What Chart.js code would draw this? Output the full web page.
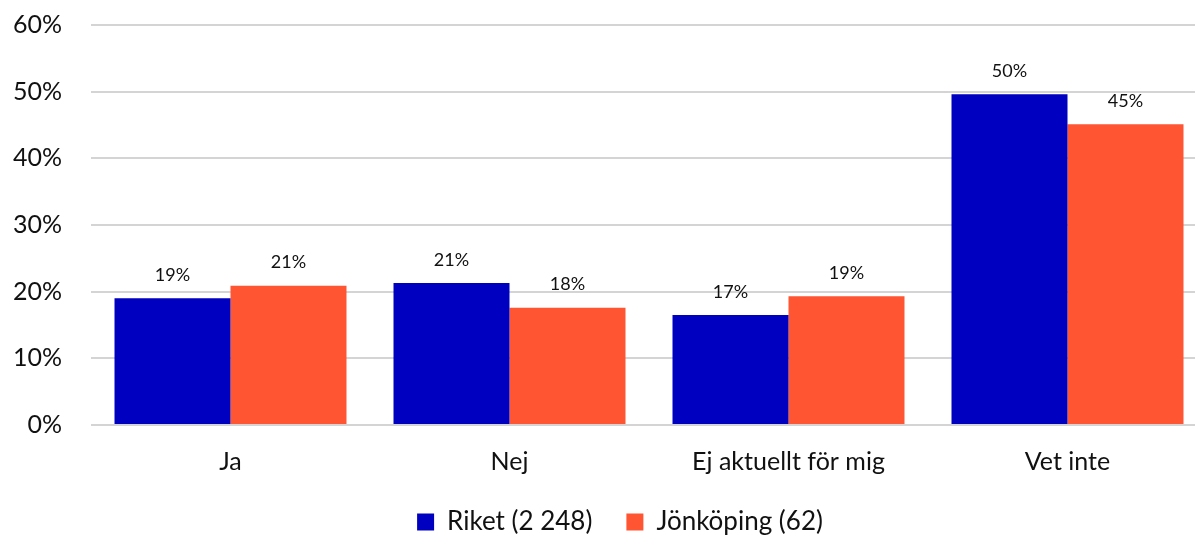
<!DOCTYPE html>
<html>
<head>
<meta charset="utf-8">
<script src="https://cdn.jsdelivr.net/npm/chart.js@4/dist/chart.umd.min.js"></script>
<style>
    html, body { margin: 0; padding: 0; background: #fff; overflow: hidden; }
    #wrap { width: 1262px; height: 564px; margin-top: -19px; position: relative; }
</style>
</head>
<body>
<div id="wrap"><canvas id="chart"></canvas></div>
<script>
const categories = ['Ja', 'Nej', 'Ej aktuellt för mig', 'Vet inte'];
const riket = [19.0, 21.3, 16.5, 49.6];
const jonkoping = [20.9, 17.6, 19.3, 45.1];
const seriesLabels = ['Riket (2 248)', 'Jönköping (62)'];
const yTicks = [0, 10, 20, 30, 40, 50, 60];

const textColor = '#111111';
const fontFamily = 'Lato, "Open Sans", sans-serif';

// value labels above each bar
const barValueLabels = {
    id: 'barValueLabels',
    afterDatasetsDraw(chart) {
        const ctx = chart.ctx;
        ctx.save();
        ctx.font = '18px ' + fontFamily;
        ctx.fillStyle = textColor;
        ctx.textAlign = 'center';
        ctx.textBaseline = 'bottom';
        chart.data.datasets.forEach((ds, i) => {
            chart.getDatasetMeta(i).data.forEach((bar, j) => {
                ctx.fillText(Math.round(ds.data[j]) + '%', bar.x, bar.y - 14);
            });
        });
        ctx.restore();
    },
};

// nudge the legend a little to the right, like the original
const legendShift = {
    id: 'legendShift',
    afterLayout(chart) {
        if (!chart.legend) return;
        chart.legend.left += 10;
        chart.legend.right += 10;
    },
};

new Chart(document.getElementById('chart'), {
    type: 'bar',
    data: {
        labels: categories,
        datasets: [
            { label: seriesLabels[0], data: riket, backgroundColor: '#0000C0' },
            { label: seriesLabels[1], data: jonkoping, backgroundColor: '#FF5533' },
        ],
    },
    options: {
        responsive: true,
        maintainAspectRatio: false,
        animation: false,
        categoryPercentage: 0.8315,
        barPercentage: 1,
        layout: { padding: { left: 13, right: 55, top: 0, bottom: 0 } },
        plugins: {
            legend: {
                position: 'bottom',
                labels: {
                    boxWidth: 17,
                    boxHeight: 17,
                    padding: 34,
                    color: textColor,
                    font: { family: fontFamily, size: 26 },
                },
            },
            tooltip: { enabled: false },
        },
        scales: {
            x: {
                grid: { display: false },
                border: { display: false },
                afterFit(scale) {
                    scale.height = 50;
                },
                ticks: {
                    color: textColor,
                    padding: 14,
                    font: { family: fontFamily, size: 25 },
                },
            },
            y: {
                min: 0,
                max: 60,
                afterBuildTicks(axis) {
                    axis.ticks = yTicks.map((v) => ({ value: v }));
                },
                afterFit(scale) {
                    scale.width = 78;
                },
                grid: { color: '#D4D4D4', lineWidth: 2, drawTicks: false },
                border: { display: false },
                ticks: {
                    color: textColor,
                    padding: 29,
                    font: { family: fontFamily, size: 25 },
                    callback: (v) => v + '%',
                },
            },
        },
    },
    plugins: [barValueLabels, legendShift],
});
</script>
</body>
</html>
